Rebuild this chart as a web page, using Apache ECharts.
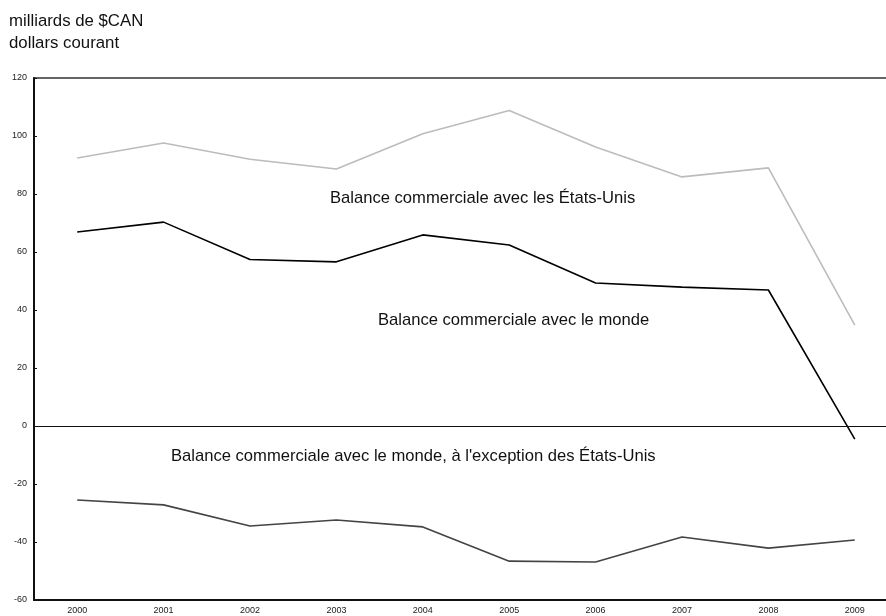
<!DOCTYPE html>
<html><head><meta charset="utf-8">
<script src="https://cdn.jsdelivr.net/npm/echarts@6/dist/echarts.min.js"></script>
<style>html,body{margin:0;padding:0;background:#fff;overflow:hidden}#c{width:898px;height:616px}</style>
</head><body><div id="c"></div>
<script>
const years = ['2000','2001','2002','2003','2004','2005','2006','2007','2008','2009'];
const usBalance = [92.4, 97.6, 92.0, 88.6, 100.8, 108.8, 96.2, 85.9, 89.0, 34.8];
const worldBalance = [66.9, 70.3, 57.4, 56.6, 65.9, 62.4, 49.3, 47.9, 46.9, -4.5];
const nonUsBalance = [-25.5, -27.2, -34.5, -32.4, -34.8, -46.6, -46.9, -38.3, -42.1, -39.3];
const yTicks = {min: -60, max: 120, interval: 20};
const titleLines = ['milliards de $CAN', 'dollars courant'];
const seriesLabels = ['Balance commerciale avec les États-Unis', 'Balance commerciale avec le monde', "Balance commerciale avec le monde, à l'exception des États-Unis"];

const font = 'Liberation Sans, Arial, Helvetica, sans-serif';
const chart = echarts.init(document.getElementById('c'));
chart.setOption({
  animation: false,
  backgroundColor: '#fff',
  grid: {left: 34, right: 0, top: 78, bottom: 16, show: true, borderColor: '#333', borderWidth: 1.5, backgroundColor: 'transparent'},
  xAxis: {
    type: 'category', data: years, boundaryGap: true,
    axisLine: {onZero: false, lineStyle: {color: '#111', width: 2}},
    axisTick: {show: false},
    axisLabel: {color: '#222', fontSize: 9, fontFamily: font, margin: 6}
  },
  yAxis: {
    type: 'value', min: yTicks.min, max: yTicks.max, interval: yTicks.interval,
    axisLine: {show: true, lineStyle: {color: '#111', width: 2}},
    axisTick: {show: true, inside: true, length: 3, lineStyle: {color: '#111'}},
    splitLine: {show: false},
    axisLabel: {color: '#222', fontSize: 9, fontFamily: font, margin: 7}
  },
  series: [
    {name: seriesLabels[0], type: 'line', data: usBalance, symbol: 'none', lineStyle: {color: '#bcbcbc', width: 1.6},
     markLine: {silent: true, symbol: 'none', label: {show: false}, lineStyle: {color: '#111', width: 1, type: 'solid'}, data: [{yAxis: 0}]}},
    {name: seriesLabels[1], type: 'line', data: worldBalance, symbol: 'none', lineStyle: {color: '#000', width: 1.6}},
    {name: seriesLabels[2], type: 'line', data: nonUsBalance, symbol: 'none', lineStyle: {color: '#444', width: 1.6}}
  ],
  graphic: [
    {type: 'text', left: 9, top: 13, style: {text: titleLines[0], font: '16.8px ' + font, fill: '#111'}},
    {type: 'text', left: 9, top: 35, style: {text: titleLines[1], font: '16.8px ' + font, fill: '#111'}},
    {type: 'text', left: 330, top: 190, style: {text: seriesLabels[0], font: '16.6px ' + font, fill: '#111'}},
    {type: 'text', left: 378, top: 312, style: {text: seriesLabels[1], font: '16.6px ' + font, fill: '#111'}},
    {type: 'text', left: 171, top: 448, style: {text: seriesLabels[2], font: '16.6px ' + font, fill: '#111'}}
  ]
});
</script></body></html>
